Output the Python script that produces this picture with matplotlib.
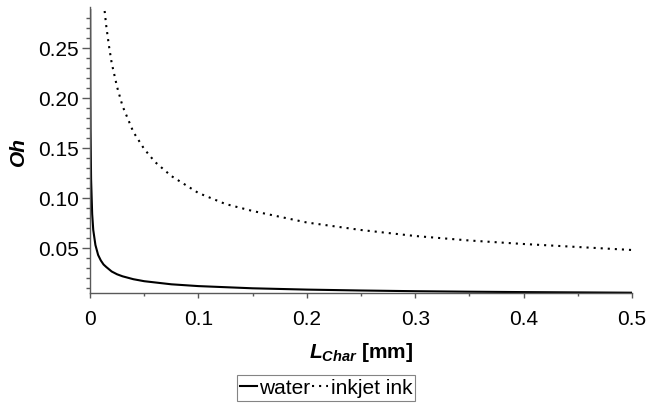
import matplotlib
matplotlib.use('Agg')
import matplotlib.pyplot as plt

plt.rcParams['font.family'] = ['Liberation Sans', 'DejaVu Sans']
plt.rcParams['mathtext.fontset'] = 'custom'
plt.rcParams['mathtext.it'] = 'Liberation Sans:italic:bold'
plt.rcParams['mathtext.rm'] = 'Liberation Sans:bold'

# werte (L in mm, Oh)
L_water = [0.00017, 0.0003, 0.0005, 0.001, 0.002, 0.003, 0.005, 0.0075, 0.01,
           0.0125, 0.015, 0.02, 0.025, 0.03, 0.04, 0.05, 0.075, 0.1, 0.15,
           0.2, 0.25, 0.3, 0.35, 0.4, 0.45, 0.5]
Oh_water = [0.288, 0.217, 0.168, 0.119, 0.084, 0.068, 0.053, 0.043, 0.0375,
            0.0335, 0.031, 0.0265, 0.0237, 0.0217, 0.0188, 0.0168, 0.0137, 0.0119, 0.0097,
            0.0084, 0.0075, 0.0068, 0.0063, 0.0059, 0.0056, 0.0053]

L_ink = [0.0135, 0.015, 0.0175, 0.02, 0.025, 0.03, 0.04, 0.05, 0.06, 0.075,
         0.1, 0.125, 0.15, 0.2, 0.25, 0.3, 0.35, 0.4, 0.45, 0.5]
Oh_ink = [0.287, 0.272, 0.252, 0.235, 0.211, 0.192, 0.166, 0.149, 0.136, 0.122,
          0.105, 0.094, 0.087, 0.0755, 0.068, 0.062, 0.0575, 0.054, 0.051, 0.048]

x_ticks = [0, 0.1, 0.2, 0.3, 0.4, 0.5]
x_labels = ['0', '0.1', '0.2', '0.3', '0.4', '0.5']
y_ticks = [0.05, 0.10, 0.15, 0.20, 0.25]
y_labels = ['0.05', '0.10', '0.15', '0.20', '0.25']

fig = plt.figure(figsize=(6.49, 4.05), dpi=100)
ax = fig.add_axes([90 / 649, 1 - 293 / 405, 542 / 649, 286 / 405])

ax.plot(L_water, Oh_water, color='black', lw=1.5, label='water')
ax.plot(L_ink, Oh_ink, color='black', lw=1.5, linestyle=(0, (1, 2.4)),
        dash_capstyle='butt', label='inkjet ink')

ax.set_xlim(0, 0.5)
ax.set_ylim(0.005, 0.291)

for s in ['top', 'right']:
    ax.spines[s].set_visible(False)
for s in ['left', 'bottom']:
    ax.spines[s].set_color('0.35')
    ax.spines[s].set_linewidth(1)

ax.set_xticks(x_ticks)
ax.set_xticklabels(x_labels)
ax.set_xticks([0.05, 0.15, 0.25, 0.35, 0.45], minor=True)
ax.set_yticks(y_ticks)
ax.set_yticklabels(y_labels)
ax.set_yticks([0.01, 0.02, 0.03, 0.04, 0.06, 0.07, 0.08, 0.09, 0.11, 0.12, 0.13, 0.14,
               0.16, 0.17, 0.18, 0.19, 0.21, 0.22, 0.23, 0.24, 0.26, 0.27, 0.28], minor=True)

ax.tick_params(axis='x', which='major', direction='out', length=3.6, width=1,
               color='0.35', pad=8.5, labelsize=15)
ax.tick_params(axis='x', which='minor', direction='out', length=2.2, width=1, color='0.35')
ax.tick_params(axis='y', which='major', direction='out', length=5.8, width=1,
               color='0.35', pad=2, labelsize=15)
ax.tick_params(axis='y', which='minor', direction='out', length=3, width=1, color='0.35')

fig.text(361 / 649, 1 - 358 / 405, r'$L_{Char}$ [mm]', fontsize=15,
         fontweight='bold', ha='center', va='baseline')
fig.text(18 / 649, 1 - 152 / 405, 'Oh', fontsize=15, fontweight='bold',
         fontstyle='italic', rotation=90, ha='center', va='center')

leg = fig.legend(loc='center', bbox_to_anchor=(326 / 649, 1 - 388 / 405), ncol=2,
                 fontsize=15, frameon=True, fancybox=False, handlelength=0.8,
                 handletextpad=0.1, columnspacing=0.1, borderpad=0.15,
                 borderaxespad=0)
leg.get_frame().set_edgecolor('0.4')
leg.get_frame().set_linewidth(0.8)

fig.savefig('out.png', dpi=100)
